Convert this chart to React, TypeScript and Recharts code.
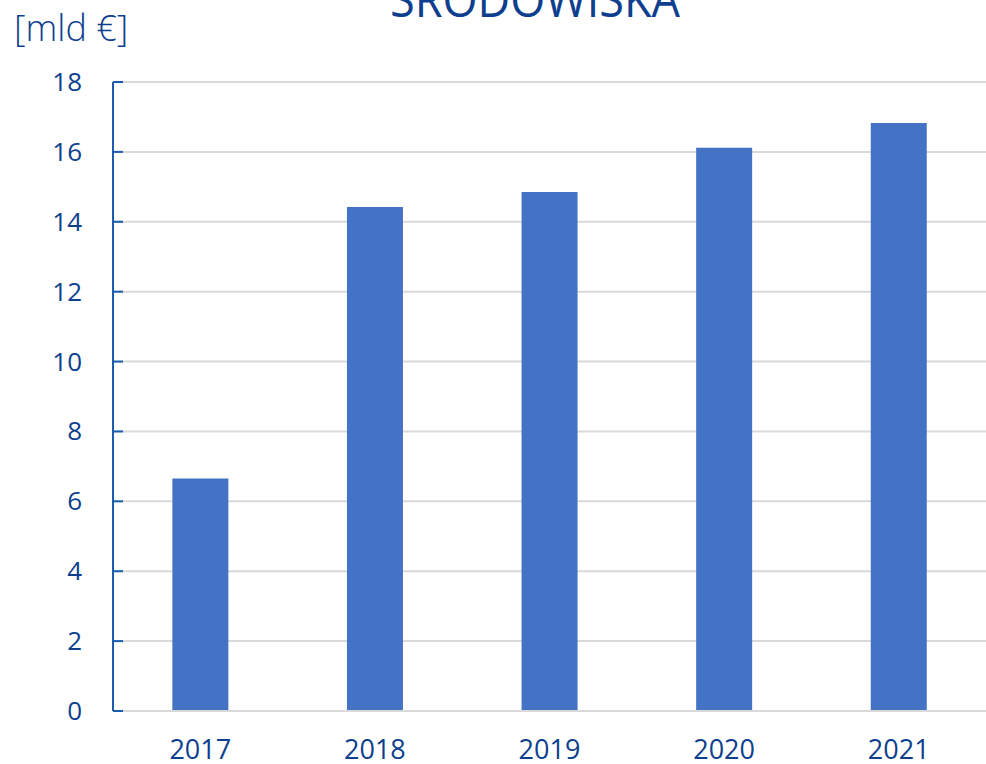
import React from "react";
import { BarChart, Bar, CartesianGrid, XAxis, YAxis } from "recharts";

const years = ["2017", "2018", "2019", "2020", "2021"];
const amounts = [6.65, 14.42, 14.85, 16.12, 16.83];
const yTicks = [0, 2, 4, 6, 8, 10, 12, 14, 16, 18];

const chartData = years.map((year, i) => ({ year, value: amounts[i] }));

const textColor = "#0e3f8e";
const font = "'Open Sans', sans-serif";

const YTick = (props: any) => {
  const { x, y, payload } = props;
  return (
    <g>
      <line x1={x} y1={y} x2={x + 10} y2={y} stroke="#1a5cb0" strokeWidth={2} />
      <text x={x - 31} y={y} dy={9} textAnchor="end" fill={textColor} fontSize={26} fontFamily={font}>
        {payload.value}
      </text>
    </g>
  );
};

const XTick = (props: any) => {
  const { x, y, payload } = props;
  return (
    <text x={x} y={y} dy={40} textAnchor="middle" fill={textColor} fontSize={27} fontFamily={font}>
      {payload.value}
    </text>
  );
};

export default function App() {
  return (
    <div style={{ position: "absolute", left: 0, top: 0, width: 986, height: 764, overflow: "hidden", background: "#fff" }}>
      <div
        style={{
          position: "absolute",
          left: 335,
          width: 400,
          top: -30,
          textAlign: "center",
          fontFamily: font,
          fontSize: 50,
          color: textColor,
          lineHeight: "56px",
          transform: "scaleX(0.9)",
          transformOrigin: "center top",
        }}
      >
        ŚRODOWISKA
      </div>
      <div
        style={{
          position: "absolute",
          left: 14,
          top: 6,
          fontFamily: font,
          fontWeight: 300,
          fontSize: 36,
          color: textColor,
          lineHeight: "44px",
        }}
      >
        [mld €]
      </div>
      <div style={{ position: "absolute", left: 0, top: 0 }}>
        <BarChart
          width={986}
          height={764}
          data={chartData}
          margin={{ top: 82, right: 0, bottom: 0, left: 0 }}
          barCategoryGap="34%"
        >
          <CartesianGrid vertical={false} stroke="#d9d9d9" strokeWidth={2} />
          <XAxis
            dataKey="year"
            axisLine={{ stroke: "#d9d9d9", strokeWidth: 2 }}
            tickLine={false}
            height={53}
            tick={<XTick />}
          />
          <YAxis
            domain={[0, 18]}
            ticks={yTicks}
            width={113}
            axisLine={{ stroke: "#1a5cb0", strokeWidth: 2 }}
            tickLine={false}
            tickSize={0}
            tickMargin={0}
            tick={<YTick />}
            interval={0}
          />
          <Bar dataKey="value" fill="#4472c4" isAnimationActive={false} />
        </BarChart>
      </div>
    </div>
  );
}
